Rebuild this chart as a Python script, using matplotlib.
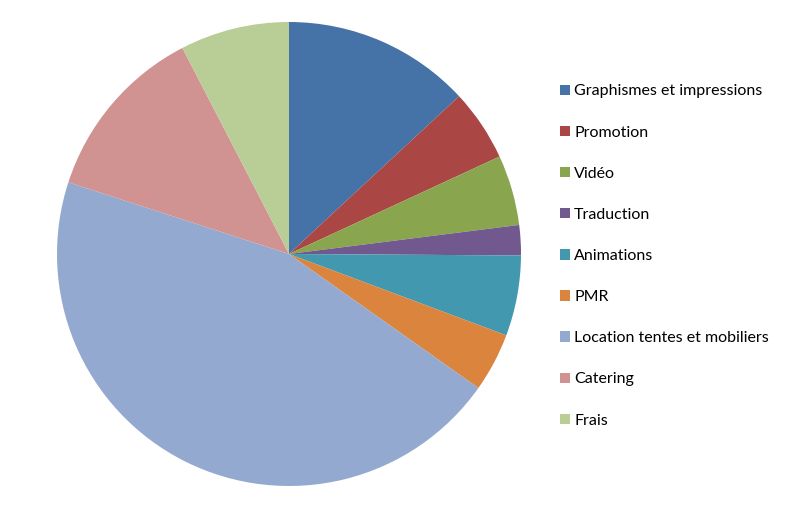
import matplotlib.pyplot as plt

################################################################################

LABELS = [
    "Graphismes et impressions",
    "Promotion",
    "Vidéo",
    "Traduction",
    "Animations",
    "PMR",
    "Location tentes et mobiliers",
    "Catering",
    "Frais",
]
VALUES = [13.1, 5.0, 4.9, 2.1, 5.6, 4.1, 45.2, 12.4, 7.6]
COLORS = [
    "#4572A7",
    "#AA4643",
    "#89A54E",
    "#71588F",
    "#4198AF",
    "#DB843D",
    "#93A9CF",
    "#D19392",
    "#B9CD96",
]

################################################################################


def main():
    plt.rcParams["font.family"] = ["Lato", "DejaVu Sans"]
    fig = plt.figure(figsize=(7.98, 5.08), dpi=100)
    ax = fig.add_axes([57 / 798, 22 / 508, 464 / 798, 464 / 508])
    wedges, _ = ax.pie(
        VALUES,
        colors=COLORS,
        startangle=90,
        counterclock=False,
        radius=1.0,
        wedgeprops={"linewidth": 0},
    )
    ax.set_xlim(-1, 1)
    ax.set_ylim(-1, 1)
    ax.set_aspect("equal")
    ax.axis("off")
    ##
    fig.legend(
        wedges,
        LABELS,
        loc="center left",
        bbox_to_anchor=(560 / 798, 1 - 256 / 508),
        frameon=False,
        fontsize=11.5,
        handlelength=0.63,
        handleheight=0.63,
        handletextpad=0.25,
        labelspacing=1.7,
        borderpad=0,
        borderaxespad=0,
    )
    fig.savefig("out.png", dpi=100)


################################################################################

main()
